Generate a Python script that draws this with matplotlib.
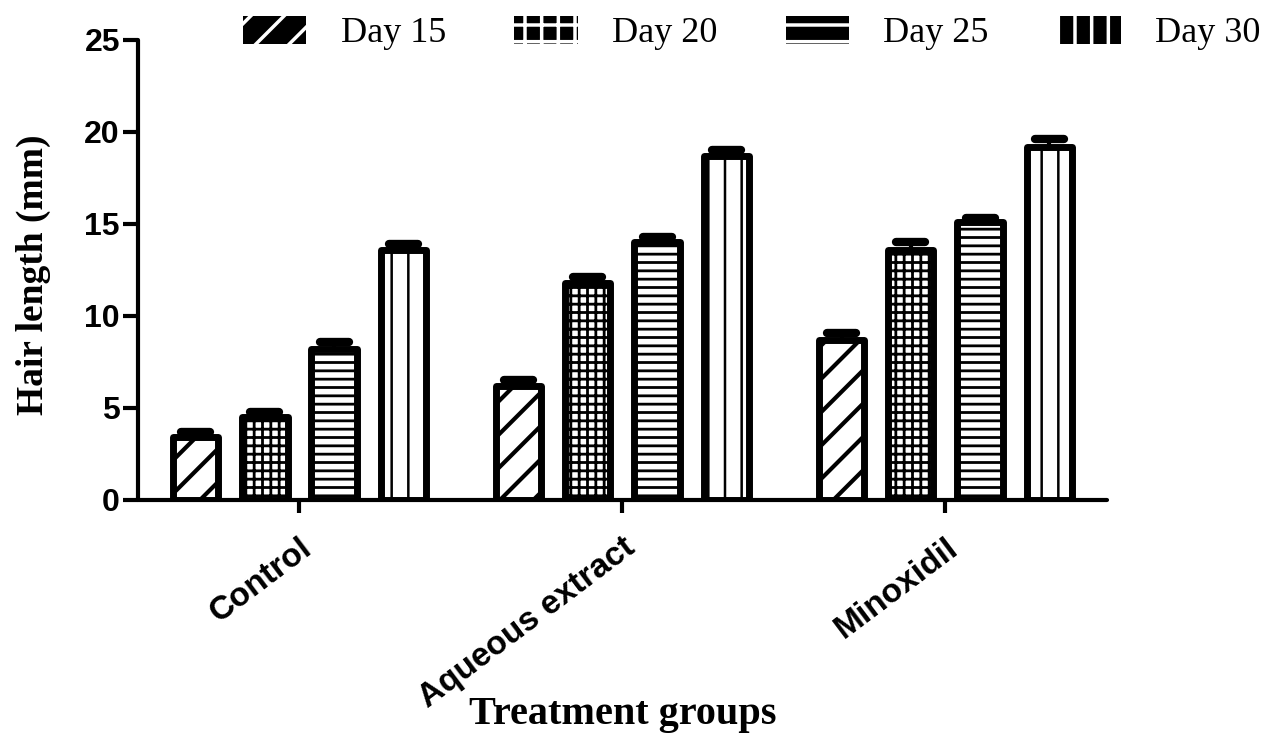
import numpy as np
import matplotlib
matplotlib.use('agg')
import matplotlib.pyplot as plt
from matplotlib.patches import Patch

groups = ['Control', 'Aqueous extract', 'Minoxidil']
days = ['Day 15', 'Day 20', 'Day 25', 'Day 30']

# mean hair length (mm) per day, one list per day, ordered like groups
day15 = [3.4, 6.2, 8.7]
day20 = [4.5, 11.8, 13.6]
day25 = [8.2, 14.0, 15.1]
day30 = [13.6, 18.7, 19.2]
# upper error (SEM)
err15 = [0.3, 0.3, 0.4]
err20 = [0.3, 0.3, 0.4]
err25 = [0.4, 0.3, 0.2]
err30 = [0.3, 0.3, 0.4]

means = [day15, day20, day25, day30]
errs = [err15, err20, err25, err30]
hatches = ['/', '++', '--', '|']
legend_hatches = ['/', '+', '-', '|']
hatch_lw = [3.0, 2.0, 2.0, 1.8]

SANS = 'Liberation Sans'
SERIF = 'Liberation Serif'

fig = plt.figure(figsize=(12.79, 7.38), dpi=100)
ax = fig.add_axes([0.1079, 0.3225, 0.7576, 0.6233])

x = np.arange(len(groups))
step = 0.2143
width = 0.14

for i in range(len(days)):
    plt.rcParams['hatch.linewidth'] = hatch_lw[i]
    pos = x + (i - 1.5) * step
    m = np.array(means[i])
    e = np.array(errs[i])
    ax.vlines(pos, m, m + e, color='black', lw=3, zorder=1)
    ax.hlines(m + e, pos - 0.045, pos + 0.045, color='black', lw=6,
              capstyle='round', zorder=1)
    ax.bar(pos, m, width, facecolor='white', edgecolor='black',
           linewidth=5, hatch=hatches[i], joinstyle='round', zorder=2)

ax.set_xlim(-0.5, 2.5)
ax.set_ylim(0, 25)
ax.set_yticks([0, 5, 10, 15, 20, 25])
ax.set_xticks(x)
ax.set_xticklabels(groups, rotation=37, ha='right', rotation_mode='anchor',
                   fontfamily=SANS, fontweight='bold', fontsize=24)
for lab in ax.get_yticklabels():
    lab.set_fontfamily(SANS)
    lab.set_fontweight('bold')
    lab.set_fontsize(23)

for s in ['top', 'right']:
    ax.spines[s].set_visible(False)
for s in ['left', 'bottom']:
    ax.spines[s].set_linewidth(3)
    ax.spines[s].set_capstyle('round')
ax.tick_params(axis='y', length=11, width=3, pad=2)
ax.tick_params(axis='x', length=9, width=3, pad=14)

ax.set_ylabel('Hair length (mm)', fontfamily=SERIF, fontweight='bold',
              fontsize=27, va='center')
ax.yaxis.set_label_coords(-0.108, 0.49)
ax.set_xlabel('Treatment groups', fontfamily=SERIF, fontweight='bold',
              fontsize=29)
ax.xaxis.set_label_coords(0.5, -0.467)
ax.xaxis.label.set_va('center')

handles = [Patch(facecolor='black', edgecolor='white', linewidth=0,
                 hatch=h) for h in legend_hatches]
plt.rcParams['hatch.linewidth'] = 2.5
fig.legend(handles, days, loc='center left', bbox_to_anchor=(0.19, 0.955),
           ncol=4, frameon=False, borderpad=0, borderaxespad=0,
           handlelength=1.75, handleheight=0.8, handletextpad=0.95,
           columnspacing=1.9, prop={'family': SERIF, 'size': 26})

fig.savefig('out.png', dpi=100)
